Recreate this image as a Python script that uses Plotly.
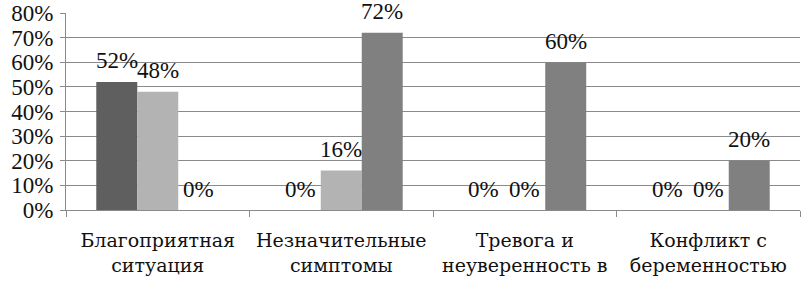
import plotly.graph_objects as go

categories = ["Благоприятная<br>ситуация", "Незначительные<br>симптомы",
              "Тревога и<br>неуверенность в", "Конфликт с<br>беременностью"]
series_a = [52, 0, 0, 0]
series_b = [48, 16, 0, 0]
series_c = [0, 72, 60, 20]
tick_vals = [0, 10, 20, 30, 40, 50, 60, 70, 80]
tick_text = ["0%", "10%", "20%", "30%", "40%", "50%", "60%", "70%", "80%"]

colors = ["#5f5f5f", "#b3b3b3", "#808080"]
W, H = 802, 283
ml, mr, mt, mb = 66, 2, 13, 73
bargap = 0.33
font_family = "Times New Roman, Liberation Serif, DejaVu Serif, serif"

fig = go.Figure()
all_series = [series_a, series_b, series_c]
for s, c in zip(all_series, colors):
    fig.add_trace(go.Bar(x=categories, y=s, marker=dict(color=c, line=dict(width=0)),
                         showlegend=False))

cat_w = (W - ml - mr) / len(categories)
bar_w = cat_w * (1 - bargap) / len(all_series)
for i, s in enumerate(all_series):
    for cat, v in zip(categories, s):
        fig.add_annotation(x=cat, y=v, text=f"{v}%", showarrow=False,
                           xshift=(i - 1) * bar_w, yshift=21, yanchor="middle",
                           font=dict(family=font_family, size=23, color="#111"))

fig.update_layout(
    width=W, height=H, margin=dict(l=ml, r=mr, t=mt, b=mb, autoexpand=False),
    barmode="group", bargap=bargap, bargroupgap=0,
    plot_bgcolor="white", paper_bgcolor="white",
    font=dict(family=font_family, size=23, color="#111"),
)
fig.update_yaxes(range=[0, 80], tickvals=tick_vals, ticktext=tick_text,
                 showgrid=True, gridcolor="#8a8a8a", gridwidth=1,
                 showline=True, linecolor="#8a8a8a", ticks="outside", ticklen=5,
                 tickcolor="#8a8a8a", zeroline=False, ticklabelstandoff=2,
                 automargin=False)
fig.update_xaxes(showline=True, linecolor="#8a8a8a", ticks="outside", ticklen=6,
                 tickcolor="#8a8a8a", tickson="boundaries", showgrid=False,
                 tickangle=0, automargin=False, ticklabelstandoff=13,
                 tickfont=dict(family="DejaVu Serif", size=19))

fig.write_html("out.html", config={"displayModeBar": False},
               post_script="document.body.style.margin='0';")
